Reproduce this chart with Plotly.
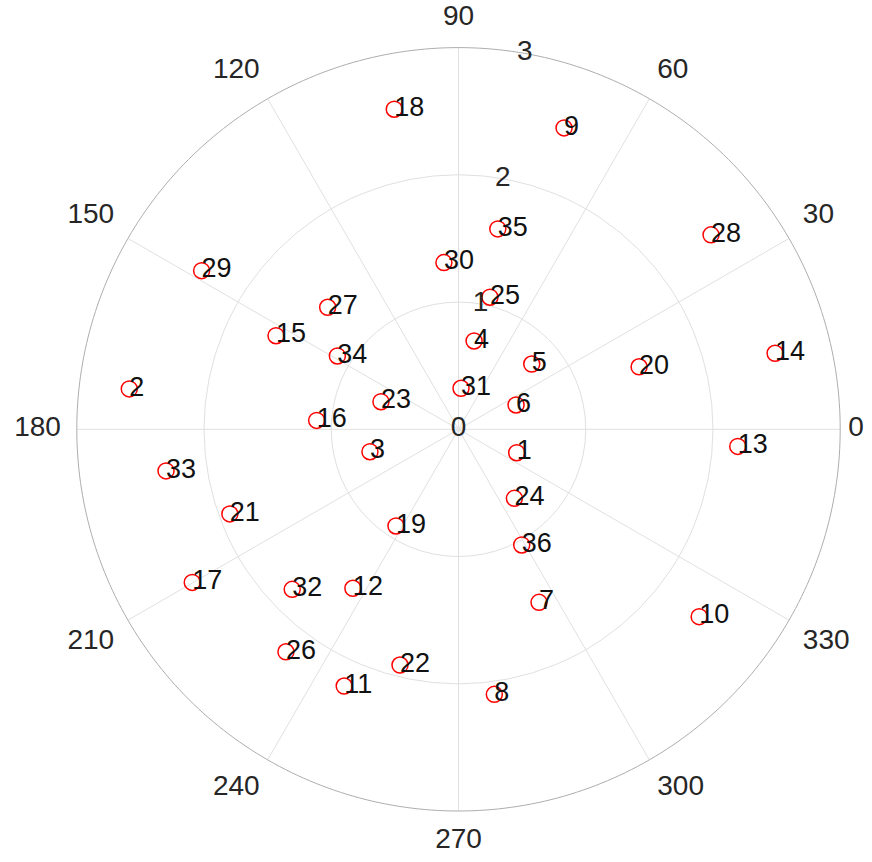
import plotly.graph_objects as go

# Point index, angle (degrees) and radius for each sample
labels = [str(i) for i in range(1, 37)]
theta_deg = [338.1, 173.0, 194.2, 80.0, 41.7, 22.9, 294.95, 277.7, 70.7, 322.1,
             246.0, 236.4, 356.5, 13.5, 152.85, 176.4, 209.9, 101.35, 237.1, 19.1,
             200.3, 256.06, 160.4, 309.0, 76.6, 232.2, 137.0, 37.6, 148.3, 95.0,
             86.5, 223.9, 188.1, 148.8, 78.9, 298.65]
radius = [0.493, 2.607, 0.718, 0.705, 0.771, 0.491, 1.500, 2.102, 2.510, 2.397,
          2.209, 1.500, 2.199, 2.559, 1.612, 1.117, 2.414, 2.566, 0.905, 1.502,
          1.916, 1.909, 0.647, 0.698, 1.067, 2.213, 1.406, 2.505, 2.373, 1.315,
          0.323, 1.814, 2.322, 1.113, 1.605, 1.036]

# Axis ticks
r_max = 3
r_ticks = [0, 1, 2, 3]
r_tick_labels = ["0", "1", "2", "3"]
r_label_angle = 80
theta_ticks = list(range(0, 360, 30))
theta_tick_labels = [str(t) for t in theta_ticks]
theta_label_r = 3.125
theta_label_pos = ["middle center", "top right", "top right", "top center",
                   "top left", "top left", "middle left", "bottom left",
                   "bottom left", "bottom center", "bottom right", "bottom right"]
view_r = 3.17  # radial extent of the subplot, leaves room for angle labels

FONT = "Liberation Sans, Arial, sans-serif"
TICK_GRAY = "#262626"
GRID = "#e0e0e0"
EDGE = "#adadad"

fig = go.Figure()

# Spokes every 30 degrees, from centre to the outer ring
spoke_r, spoke_t = [], []
for t in theta_ticks:
    spoke_r += [0, r_max, None]
    spoke_t += [t, t, None]
fig.add_trace(go.Scatterpolar(
    r=spoke_r, theta=spoke_t, mode="lines",
    line=dict(color=GRID, width=1), hoverinfo="skip", cliponaxis=False,
))

# Outer ring at r = 3
ring_t = list(range(0, 361))
fig.add_trace(go.Scatterpolar(
    r=[r_max] * len(ring_t), theta=ring_t, mode="lines",
    line=dict(color=EDGE, width=1), hoverinfo="skip", cliponaxis=False,
))

# Red open-circle markers
fig.add_trace(go.Scatterpolar(
    r=radius, theta=theta_deg, mode="markers",
    marker=dict(symbol="circle-open", size=16, color="red",
                line=dict(color="red", width=1.5)),
    hoverinfo="skip", cliponaxis=False,
))

# Index labels written next to each point
fig.add_trace(go.Scatterpolar(
    r=radius, theta=theta_deg, mode="text", text=labels,
    textposition="middle right",
    textfont=dict(family=FONT, size=27, color="#111111"),
    hoverinfo="skip", cliponaxis=False,
))

# Radial tick labels along the 80 degree direction
fig.add_trace(go.Scatterpolar(
    r=r_ticks, theta=[r_label_angle] * len(r_ticks), mode="text",
    text=r_tick_labels, textposition="middle center",
    textfont=dict(family=FONT, size=28, color=TICK_GRAY),
    hoverinfo="skip", cliponaxis=False,
))

# Angle labels just outside the outer ring
fig.add_trace(go.Scatterpolar(
    r=[theta_label_r] * len(theta_ticks), theta=theta_ticks, mode="text",
    text=theta_tick_labels, textposition=theta_label_pos,
    textfont=dict(family=FONT, size=28, color=TICK_GRAY),
    hoverinfo="skip", cliponaxis=False,
))

W, H = 872, 862
cx, cy = 458.5, 432.7          # centre in px (y measured from bottom)
R = 381.7 * view_r / r_max     # px radius of the whole subplot

fig.update_layout(
    width=W, height=H,
    margin=dict(l=0, r=0, t=0, b=0),
    paper_bgcolor="white",
    showlegend=False,
    polar=dict(
        domain=dict(x=[(cx - R) / W, (cx + R) / W],
                    y=[(cy - R) / H, (cy + R) / H]),
        bgcolor="white",
        radialaxis=dict(
            range=[0, view_r], tickvals=[1, 2], showticklabels=False,
            ticks="", showline=False, showgrid=True,
            gridcolor=GRID, gridwidth=1, angle=r_label_angle,
        ),
        angularaxis=dict(
            direction="counterclockwise", rotation=0,
            showticklabels=False, ticks="",
            showgrid=False, showline=False,
        ),
    ),
)

fig.write_html("out.html")
